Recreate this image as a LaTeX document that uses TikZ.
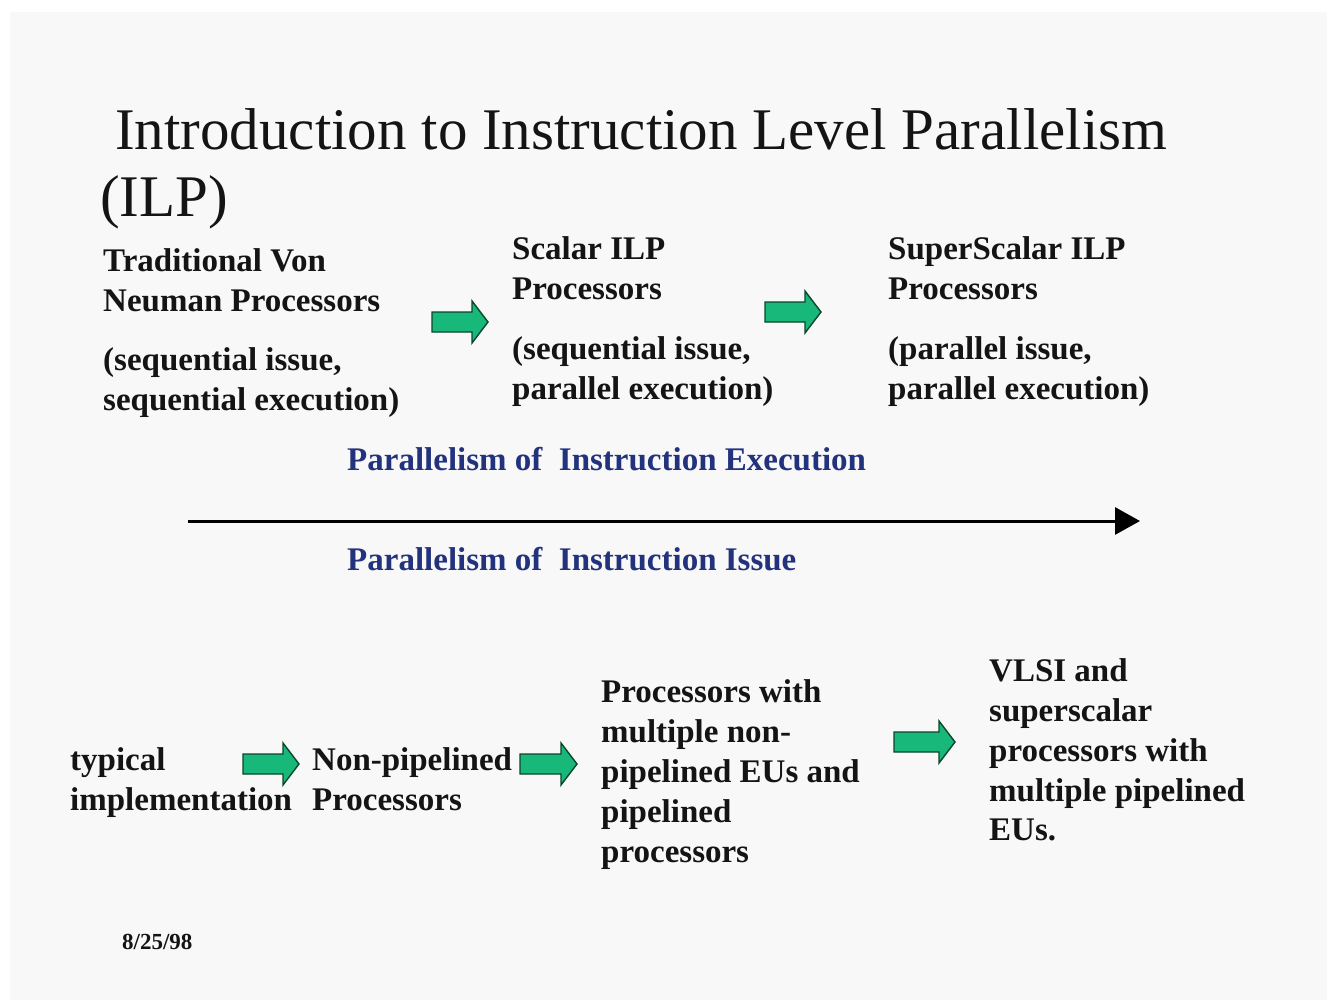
\documentclass[tikz,border=0pt]{standalone}
\usepackage{fontspec}
\setmainfont{Liberation Serif}
\usetikzlibrary{arrows.meta}
\definecolor{slidebg}{RGB}{248,248,248}
\definecolor{arrowgreen}{RGB}{24,184,122}
\definecolor{arrowedge}{RGB}{10,70,45}
\definecolor{bluetext}{RGB}{35,50,125}
\definecolor{inktext}{RGB}{20,20,20}
\tikzset{
  txt/.style={anchor=base west, inner sep=0pt, text=inktext, font=\fontsize{33}{40}\selectfont\bfseries},
  titletxt/.style={anchor=base west, inner sep=0pt, text=inktext, font=\fontsize{59}{70}\selectfont},
  bluetxt/.style={txt, text=bluetext},
  datetxt/.style={anchor=base west, inner sep=0pt, text=inktext, font=\fontsize{23}{26}\selectfont\bfseries},
  garrow/.style={draw=arrowedge, line width=1.4pt, fill=arrowgreen, line join=miter},
  mainarrow/.style={line width=3pt, -{Triangle[length=25pt,width=27pt]}}
}
\newcommand\greenarrow[4]{% x, y, shaft length, name
  \draw[garrow] (#1,#2) ++(0,-10) -- ++(#3,0) -- ++(0,-11) -- ++(16,21) -- ++(-16,21) -- ++(0,-11) -- ++(-#3,0) -- cycle;
  \coordinate (#4) at (#1,#2);
}
\begin{document}
\begin{tikzpicture}[x=1pt,y=-1pt]
\useasboundingbox (0,0) rectangle (1327,1000);
\fill[white] (0,0) rectangle (1327,1000);
\fill[slidebg] (10,12) rectangle (1327,1000);

% title
\node[titletxt] (t1) at (115,150) {Introduction to Instruction Level Parallelism};
\node[titletxt] (t2) at (100,217) {(ILP)};

% top row
\node[txt] (a1) at (103,272) {Traditional Von};
\node[txt] (a2) at (103,311) {Neuman Processors};
\node[txt] (a3) at (103,370) {(sequential issue,};
\node[txt] (a4) at (103,410) {sequential execution)};

\node[txt] (b1) at (512,260) {Scalar ILP};
\node[txt] (b2) at (512,299) {Processors};
\node[txt] (b3) at (512,359) {(sequential issue,};
\node[txt] (b4) at (512,399) {parallel execution)};

\node[txt] (c1) at (888,260) {SuperScalar ILP};
\node[txt] (c2) at (888,299) {Processors};
\node[txt] (c3) at (888,359) {(parallel issue,};
\node[txt] (c4) at (888,399) {parallel execution)};

\greenarrow{432}{322}{40}{g1}
\greenarrow{765}{312}{40}{g2}

% axis
\node[bluetxt] (pe) at (347,470) {Parallelism of\ \ Instruction Execution};
\coordinate (axs) at (188,521);
\coordinate (axe) at (1140,521);
\draw[mainarrow] (axs) -- (axe);
\node[bluetxt] (pi) at (347,570) {Parallelism of\ \ Instruction Issue};

% bottom row
\node[txt] (d1) at (70,770) {typical};
\node[txt] (d2) at (70,810) {implementation};

\node[txt] (e1) at (312,770) {Non-pipelined};
\node[txt] (e2) at (312,810) {Processors};

\node[txt] (f1) at (601,702) {Processors with};
\node[txt] (f2) at (601,742) {multiple non-};
\node[txt] (f3) at (601,782) {pipelined EUs and};
\node[txt] (f4) at (601,822) {pipelined};
\node[txt] (f5) at (601,862) {processors};

\node[txt] (h1) at (989,681) {VLSI and};
\node[txt] (h2) at (989,721) {superscalar};
\node[txt] (h3) at (989,761) {processors with};
\node[txt] (h4) at (989,801) {multiple pipelined};
\node[txt] (h5) at (989,840) {EUs.};

\greenarrow{243}{764}{40}{g3}
\greenarrow{520}{764}{41}{g4}
\greenarrow{894}{742}{45}{g5}

\node[datetxt] (date) at (122,949) {8/25/98};
\end{tikzpicture}
\end{document}
